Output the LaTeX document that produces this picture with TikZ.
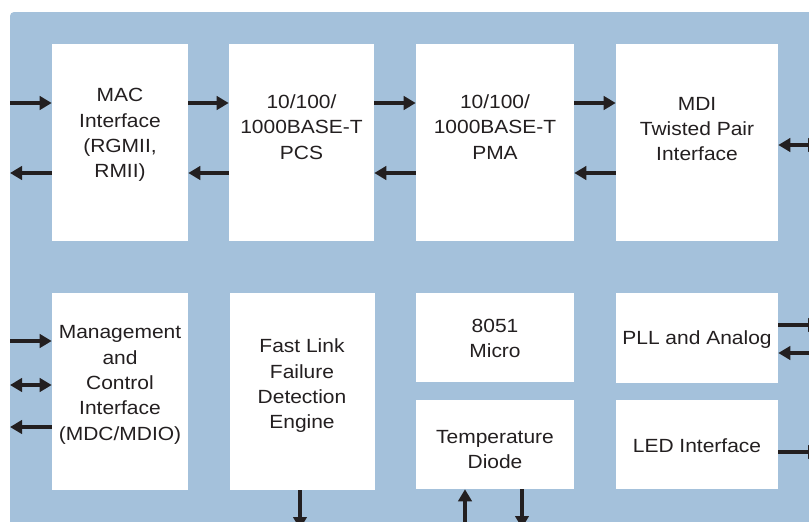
\documentclass[tikz,border=0pt]{standalone}
\usepackage{fontspec}
\setmainfont[FakeStretch=1.1]{Liberation Sans}
\usetikzlibrary{arrows.meta}
\definecolor{chipblue}{RGB}{164,193,219}
\definecolor{ink}{RGB}{35,31,32}

\begin{document}
\begin{tikzpicture}[x=0.75pt, y=-0.75pt, >={Triangle[length=9pt,width=10pt]},
  block/.style 2 args={fill=white, inner sep=0pt,
    minimum width=#1*0.75pt, minimum height=#2*0.75pt},
  txt/.style={align=center, text=ink, font=\fontsize{14.3}{19}\selectfont},
  wire/.style={draw=ink, line width=2.4pt}]
\useasboundingbox (0,0) rectangle (809,521);
\fill [chipblue, rounded corners=3pt] (10,12) rectangle (840,560);

\foreach \n/\cx/\cy/\w/\h in {mac/120/142.5/136/197, pcs/301.5/142.5/145/197,
    pma/495/142.5/158/197, mdi/697/142.5/162/197,
    mgmt/120/391.5/136/197, fast/302/391.5/145/197,
    micro/495/337.5/158/89, temp/495/444.5/158/89,
    pll/697/337.5/162/90, led/697/444.5/162/89}
  \node [block={\w}{\h}] (\n) at (\cx,\cy) {};

\node [txt] (mac-text) at (120,135) {MAC\\Interface\\(RGMII,\\RMII)};
\node [txt] (pcs-text) at (301.5,127) {10/100/\\1000BASE-T\\PCS};
\node [txt] (pma-text) at (495,127) {10/100/\\1000BASE-T\\PMA};
\node [txt] (mdi-text) at (697,129) {MDI\\Twisted Pair\\Interface};
\node [txt] (mgmt-text) at (120,385) {Management\\and\\Control\\Interface\\(MDC/MDIO)};
\node [txt] (fast-text) at (302,386) {Fast Link\\Failure\\Detection\\Engine};
\node [txt] (micro-text) at (495,338.5) {8051\\Micro};
\node [txt] (temp-text) at (495,449.5) {Temperature\\Diode};
\node [txt] (pll-text) at (697,340) {PLL and Analog};
\node [txt] (led-text) at (697,446) {LED Interface};

% free ends at the border
\coordinate (mac-in) at (10,103);
\coordinate (mac-out) at (10,173);
\coordinate (mgmt-in) at (10,341);
\coordinate (mgmt-io) at (10,385);
\coordinate (mgmt-out) at (10,427);
\coordinate (mdi-io) at (820,145);
\coordinate (pll-out) at (820,325);
\coordinate (pll-in) at (820,353);
\coordinate (led-out) at (820,452);
\coordinate (fast-out) at (300,529);
\coordinate (temp-in) at (465,530);
\coordinate (temp-out) at (522,528);

\foreach \a/\b in {mac/pcs, pcs/pma, pma/mdi} {
  \draw [->, wire] (\a.east |- mac-in) -- (\b.west |- mac-in);
  \draw [<-, wire] (\a.east |- mac-out) -- (\b.west |- mac-out);
}

\draw [->, wire] (mac-in) -- (mac.west |- mac-in);
\draw [<-, wire] (mac-out) -- (mac.west |- mac-out);
\draw [->, wire] (mgmt-in) -- (mgmt.west |- mgmt-in);
\draw [<->, wire] (mgmt-io) -- (mgmt.west |- mgmt-io);
\draw [<-, wire] (mgmt-out) -- (mgmt.west |- mgmt-out);

\draw [<->, wire] (mdi.east |- mdi-io) -- (mdi-io);
\draw [->, wire] (pll.east |- pll-out) -- (pll-out);
\draw [<-, wire] (pll.east |- pll-in) -- (pll-in);
\draw [->, wire] (led.east |- led-out) -- (led-out);

\draw [->, wire] (fast.south -| fast-out) -- (fast-out);
\draw [<-, wire] (temp.south -| temp-in) -- (temp-in);
\draw [->, wire] (temp.south -| temp-out) -- (temp-out);
\end{tikzpicture}
\end{document}
